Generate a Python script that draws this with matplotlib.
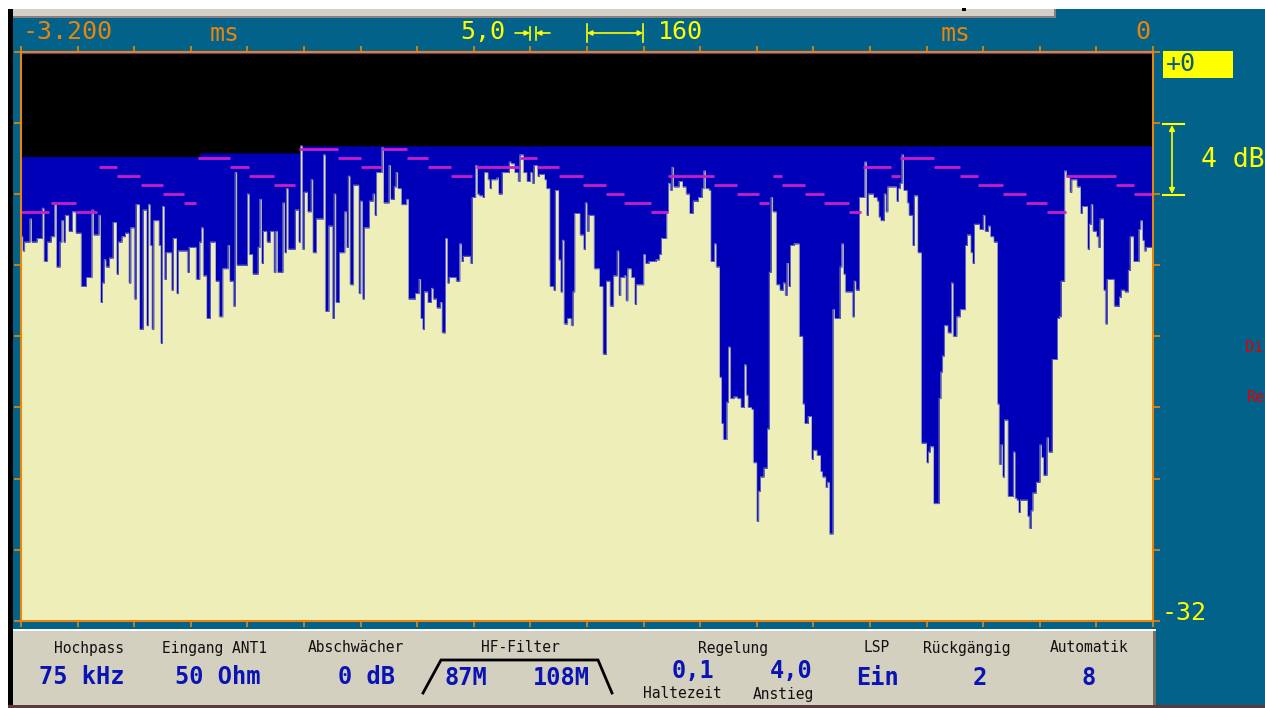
import numpy as np
import matplotlib.pyplot as plt
from matplotlib.patches import Rectangle

# Zeitbasis: ein Abtastwert alle 5 us, 640 Werte = 3,2 ms
T_ABTAST = 0.005
N_WERTE = 640
T_START = -3.2

# Pegelverlauf als Treppe: erster Abtastwert jeder Stufe und Pegel in dB
pegel_idx = [
    0, 1, 2, 5, 6, 9, 12, 13, 15, 17, 19, 20, 22, 23, 24, 25, 27, 29, 31, 34,
    37, 40, 41, 44, 45, 46, 47, 48, 50, 52, 54, 55, 57, 59, 61, 62, 64, 65, 67, 69,
    71, 72, 73, 74, 75, 78, 79, 80, 81, 82, 85, 86, 88, 89, 94, 95, 99, 101, 102, 103,
    105, 107, 110, 112, 114, 117, 118, 120, 121, 122, 128, 129, 131, 134, 135, 136, 137, 139, 141, 143,
    144, 145, 148, 149, 150, 151, 155, 157, 158, 159, 160, 162, 164, 165, 167, 171, 172, 174, 176, 177,
    178, 180, 183, 184, 185, 186, 188, 191, 192, 193, 194, 197, 199, 200, 201, 204, 205, 208, 209, 211,
    212, 213, 215, 218, 219, 223, 225, 226, 227, 228, 230, 232, 233, 235, 237, 238, 240, 241, 242, 246,
    248, 249, 250, 254, 255, 257, 258, 259, 261, 262, 264, 265, 266, 269, 270, 272, 276, 277, 279, 281,
    282, 284, 286, 288, 289, 290, 292, 293, 296, 297, 299, 301, 302, 304, 305, 306, 307, 309, 311, 312,
    313, 316, 318, 319, 320, 321, 324, 327, 329, 331, 333, 335, 337, 338, 339, 341, 342, 343, 345, 347,
    348, 352, 353, 355, 359, 361, 362, 365, 366, 367, 368, 369, 372, 374, 376, 378, 380, 383, 385, 386,
    387, 389, 390, 392, 393, 395, 396, 397, 399, 400, 401, 403, 405, 407, 409, 410, 411, 413, 414, 416,
    417, 418, 420, 422, 423, 424, 425, 427, 429, 431, 432, 433, 434, 435, 437, 440, 442, 443, 445, 447,
    448, 450, 452, 453, 455, 456, 457, 459, 460, 463, 464, 465, 466, 470, 471, 472, 474, 477, 478, 479,
    482, 484, 485, 486, 488, 489, 490, 495, 496, 497, 498, 499, 501, 502, 504, 505, 507, 509, 512, 513,
    514, 516, 519, 520, 521, 522, 524, 526, 527, 529, 531, 534, 535, 537, 538, 539, 542, 544, 545, 547,
    548, 550, 552, 553, 554, 555, 556, 558, 561, 562, 563, 564, 565, 569, 570, 571, 572, 574, 576, 577,
    578, 580, 581, 583, 586, 587, 588, 590, 591, 593, 594, 597, 599, 600, 603, 604, 605, 606, 608, 609,
    610, 612, 613, 614, 618, 621, 622, 624, 626, 627, 629, 632, 633, 634, 635, 636,
]
pegel_db = [
    -10.4, -11.2, -10.7, -9.4, -10.7, -10.5, -8.8, -11.8, -10.7, -10.4, -8.6, -12.1, -10.7, -9.5, -10.7, -9.2, -10.1, -9.0, -10.2, -13.2,
    -12.7, -8.9, -10.3, -9.2, -14.1, -13.0, -11.7, -12.1, -11.6, -9.6, -12.5, -10.7, -10.4, -10.2, -13.0, -9.9, -13.9, -8.6, -15.6, -8.9,
    -15.4, -8.6, -10.9, -15.6, -9.5, -10.9, -16.4, -8.7, -12.8, -11.3, -13.4, -10.5, -13.6, -11.2, -12.4, -11.0, -12.8, -10.7, -9.9, -12.6,
    -15.0, -10.7, -12.9, -14.9, -12.2, -10.9, -12.9, -14.3, -6.8, -12.0, -8.0, -11.4, -12.5, -11.0, -8.3, -11.9, -10.1, -10.7, -10.1, -12.4,
    -10.1, -12.4, -8.5, -11.3, -7.7, -11.1, -8.9, -10.7, -5.3, -11.1, -7.9, -9.0, -7.2, -11.3, -9.4, -5.8, -14.6, -9.8, -15.0, -8.0,
    -14.1, -11.3, -9.0, -11.0, -7.0, -13.1, -7.5, -13.6, -8.4, -13.9, -9.9, -8.4, -8.0, -9.2, -6.8, -5.4, -8.5, -6.4, -8.3, -7.6,
    -6.8, -7.7, -8.6, -8.3, -13.9, -13.6, -12.8, -15.0, -15.6, -13.5, -14.1, -13.3, -13.9, -14.4, -14.1, -15.8, -10.5, -13.0, -12.7, -12.9,
    -10.8, -11.8, -11.5, -11.9, -8.2, -6.4, -8.0, -8.1, -8.2, -6.8, -7.2, -7.7, -7.2, -7.1, -8.0, -6.8, -6.2, -6.3, -6.8, -7.3,
    -5.8, -6.8, -7.3, -6.8, -7.4, -6.4, -7.0, -6.9, -7.2, -7.7, -13.2, -13.4, -7.8, -11.7, -13.5, -10.6, -15.3, -15.0, -15.4, -13.5,
    -9.1, -10.3, -11.1, -8.5, -10.1, -9.2, -12.2, -13.2, -17.0, -12.9, -14.3, -12.6, -11.2, -13.7, -12.7, -12.6, -14.0, -12.2, -12.7, -14.2,
    -13.1, -11.4, -11.9, -11.8, -11.7, -11.4, -10.5, -9.0, -7.4, -7.8, -6.5, -7.6, -7.3, -7.6, -8.0, -9.1, -8.4, -8.2, -7.7, -6.7,
    -7.7, -7.8, -11.8, -10.8, -12.1, -18.3, -20.9, -21.8, -19.7, -16.6, -19.5, -19.4, -19.5, -20.0, -17.6, -19.3, -20.0, -20.1, -23.1, -26.4,
    -24.7, -23.9, -23.4, -21.2, -12.4, -8.2, -9.0, -13.1, -13.4, -13.0, -13.7, -11.9, -13.2, -10.9, -10.8, -16.0, -19.8, -20.9, -20.5, -22.9,
    -22.4, -22.7, -23.6, -23.9, -24.5, -24.2, -27.1, -14.5, -15.0, -12.1, -10.8, -12.5, -13.5, -14.9, -12.9, -13.4, -8.2, -6.2, -9.2, -8.0,
    -8.2, -8.4, -9.3, -9.5, -8.0, -9.0, -7.6, -8.4, -7.7, -7.4, -5.8, -7.8, -8.5, -9.2, -10.9, -8.1, -11.3, -22.0, -23.1, -22.5,
    -22.2, -25.4, -19.5, -18.0, -17.1, -15.4, -15.8, -13.0, -16.0, -14.9, -14.5, -10.9, -10.3, -11.3, -11.9, -9.7, -10.0, -9.2, -10.1, -9.8,
    -10.4, -10.7, -19.8, -23.2, -22.1, -23.9, -20.7, -25.0, -22.5, -25.1, -25.2, -25.9, -25.2, -26.1, -26.8, -25.8, -24.8, -24.2, -22.1, -22.8,
    -23.8, -21.7, -22.5, -17.3, -15.0, -14.9, -12.9, -6.7, -7.0, -7.9, -7.2, -7.6, -9.1, -8.7, -11.1, -9.7, -8.6, -10.1, -10.4, -11.0,
    -9.4, -13.4, -15.3, -12.8, -14.3, -13.8, -13.4, -13.5, -12.3, -10.4, -11.8, -10.0, -9.5, -10.6, -11.2, -11.0,
]

# Maximalwert-Huelle (obere Grenze der blauen Flaeche)
huelle_idx = [0, 101, 158]
huelle_db = [-5.9, -5.7, -5.3]

# Spitzenwertanzeige mit Abfall: Anfang, Ende (Abtastwerte) und Pegel
spitze_anf = [0, 17, 31, 44, 54, 68, 80, 92, 100, 118, 129, 143, 157, 179, 192, 204,
              218, 230, 243, 257, 282, 292, 304, 318, 331, 341, 356, 366, 392, 405, 417, 425,
              430, 443, 454, 468, 476, 492, 497, 516, 531, 541, 555, 568, 580, 591, 619, 629]
spitze_end = [16, 31, 43, 54, 67, 80, 92, 99, 118, 129, 143, 155, 179, 192, 204, 218,
              230, 243, 255, 282, 292, 304, 318, 331, 341, 356, 366, 392, 405, 417, 423, 430,
              443, 454, 468, 475, 492, 497, 516, 531, 541, 555, 568, 580, 591, 619, 629, 640]
spitze_db = [-9.0, -8.5, -9.0, -6.5, -7.0, -7.5, -8.0, -8.5, -6.0, -6.5, -7.0, -7.5, -5.5, -6.0, -6.5, -5.5,
             -6.0, -6.5, -7.0, -6.5, -6.0, -6.5, -7.0, -7.5, -8.0, -8.5, -9.0, -7.0, -7.5, -8.0, -8.5, -7.0,
             -7.5, -8.0, -8.5, -9.0, -6.5, -7.0, -6.0, -6.5, -7.0, -7.5, -8.0, -8.5, -9.0, -7.0, -7.5, -8.0]

# Einstellungen in der Statusleiste
feld_namen = ['Hochpass', 'Eingang ANT1', 'Abschwächer', 'HF-Filter', 'Regelung', 'LSP', 'Rückgängig', 'Automatik']
feld_werte = ['75 kHz', '50 Ohm', '0 dB', '87M', '108M', '0,1', '4,0', 'Ein', '2', '8']

TEAL = '#02628a'
ORANGE = '#e8850a'
GELB = '#ffff00'
BLAU = '#0000b8'
CREME = '#eeeeb9'
MAGENTA = '#c81ec8'
GRAU = '#d3d0bf'
TEXTBLAU = '#0a14b4'
MONO = 'DejaVu Sans Mono'


def treppe(idx, werte):
    out = np.empty(N_WERTE)
    enden = list(idx[1:]) + [N_WERTE]
    for a, b, w in zip(idx, enden, werte):
        out[a:b] = w
    return np.append(out, out[-1])


t = T_START + np.arange(N_WERTE + 1) * T_ABTAST
pegel = treppe(pegel_idx, pegel_db)
huelle = treppe(huelle_idx, huelle_db)

fig = plt.figure(figsize=(12.65, 7.08), dpi=100)
fig.patch.set_facecolor('white')

# Hintergrund in Pixelkoordinaten
bg = fig.add_axes([0, 0, 1, 1])
bg.set_xlim(0, 1265)
bg.set_ylim(708, 0)
bg.axis('off')


def rect(x0, y0, x1, y1, farbe):
    bg.add_patch(Rectangle((x0, y0), x1 - x0, y1 - y0, facecolor=farbe, edgecolor='none'))


rect(8, 9, 1265, 708, TEAL)
rect(8, 9, 13, 708, 'black')
rect(13, 9, 1056, 16, '#d4d0c8')
rect(13, 16, 1056, 18, '#8c7e84')
rect(1054, 9, 1056, 18, '#8c7e84')
rect(962, 8, 966, 11, 'black')
rect(13, 629, 1156, 631, 'white')
rect(13, 631, 1153, 705, GRAU)
rect(1153, 631, 1156, 705, '#77705f')
rect(8, 705, 1265, 708, '#5a3a3a')

# Beschriftung der Zeitachse
bg.text(68, 32, '-3.200', color=ORANGE, family=MONO, fontsize=18, ha='center', va='center')
bg.text(225, 34, 'ms', color=ORANGE, family=MONO, fontsize=18, ha='center', va='center')
bg.text(483, 32, '5,0', color=GELB, family=MONO, fontsize=18, ha='center', va='center')
bg.text(680, 32, '160', color=GELB, family=MONO, fontsize=18, ha='center', va='center')
bg.text(956, 34, 'ms', color=ORANGE, family=MONO, fontsize=18, ha='center', va='center')
bg.text(1143, 32, '0', color=ORANGE, family=MONO, fontsize=18, ha='center', va='center')

# Aufloesungssymbol ->||<- und Rastersymbol |<->|
pfeil = dict(arrowstyle='-|>', color=GELB, lw=1.2, mutation_scale=7, shrinkA=0, shrinkB=0)
bg.annotate('', xy=(530, 33), xytext=(515, 33), arrowprops=pfeil)
bg.annotate('', xy=(536, 33), xytext=(550, 33), arrowprops=pfeil)
bg.plot([530, 530], [27, 40], color=GELB, lw=1.2)
bg.plot([536, 536], [27, 40], color=GELB, lw=1.2)
bg.plot([587, 587], [24, 42], color=GELB, lw=1.2)
bg.plot([643, 643], [24, 42], color=GELB, lw=1.2)
bg.annotate('', xy=(643, 33), xytext=(587, 33),
            arrowprops=dict(arrowstyle='<|-|>', color=GELB, lw=1.2, mutation_scale=7, shrinkA=0, shrinkB=0))

# Pegelskala rechts
rect(1163, 51, 1233, 78, GELB)
bg.text(1166, 64, '+0', color='#0a5a78', family=MONO, fontsize=18, ha='left', va='center')
bg.plot([1163, 1184], [124, 124], color=GELB, lw=1.5)
bg.plot([1163, 1184], [195, 195], color=GELB, lw=1.5)
bg.annotate('', xy=(1172, 125), xytext=(1172, 194),
            arrowprops=dict(arrowstyle='<|-|>', color=GELB, lw=1.2, mutation_scale=8, shrinkA=0, shrinkB=0))
bg.text(1201, 160, '4 dB', color=GELB, family=MONO, fontsize=19, ha='left', va='center')
bg.text(1162, 613, '-32', color=GELB, family=MONO, fontsize=18, ha='left', va='center')
bg.text(1245, 347, 'Di', color='#e00000', family=MONO, fontsize=11, ha='left', va='center')
bg.text(1247, 397, 'Re', color='#e00000', family=MONO, fontsize=11, ha='left', va='center')

# Statusleiste
for name, x in zip(feld_namen, [89, 214, 356, 520, 733, 877, 967, 1089]):
    bg.text(x, 648, name, color='#111111', family=MONO, fontsize=10.5, ha='center', va='center')
wert_pos = [(82, 677), (218, 677), (367, 677), (466, 678), (561, 678),
            (693, 671), (791, 671), (878, 678), (980, 678), (1089, 678)]
for wert, (x, y) in zip(feld_werte, wert_pos):
    bg.text(x, y, wert, color=TEXTBLAU, family=MONO, fontsize=17, fontweight='bold',
            ha='center', va='center')
bg.text(682, 694, 'Haltezeit', color='#111111', family=MONO, fontsize=10.5, ha='center', va='center')
bg.text(783, 694, 'Anstieg', color='#111111', family=MONO, fontsize=10.5, ha='center', va='center')
bg.plot([423, 441, 598, 612], [693, 660, 660, 693], color='black', lw=2, solid_joinstyle='miter')

# Messfenster
ax = fig.add_axes([21 / 1265, 1 - 621 / 708, 1132 / 1265, (621 - 51.5) / 708])
ax.set_facecolor('black')
ax.set_xlim(T_START, 0)
ax.set_ylim(-32, 0)
ax.fill_between(t, -32, pegel, step='post', color=CREME, lw=0)
ax.fill_between(t, pegel, huelle, step='post', color=BLAU, lw=0)
ax.step(t, pegel, where='post', color='#8c8cd8', lw=0.5)
ax.hlines(spitze_db, T_START + np.array(spitze_anf) * T_ABTAST,
          T_START + np.array(spitze_end) * T_ABTAST, color=MAGENTA, lw=2)
ax.axhline(-0.08, color='#5030a0', lw=1)

for s in ax.spines.values():
    s.set_color(ORANGE)
    s.set_linewidth(1.5)
ax.set_xticks(np.arange(T_START, 0.001, 0.16))
ax.set_yticks(np.arange(-32, 0.1, 4))
ax.tick_params(axis='x', top=True, bottom=True, direction='out', length=4.5, width=1.2,
               color=ORANGE, labelbottom=False, labeltop=False)
ax.tick_params(axis='y', left=True, right=True, direction='out', length=5, width=1.2,
               color=ORANGE, labelleft=False, labelright=False)

fig.savefig('out.png', dpi=100, facecolor=fig.get_facecolor())
